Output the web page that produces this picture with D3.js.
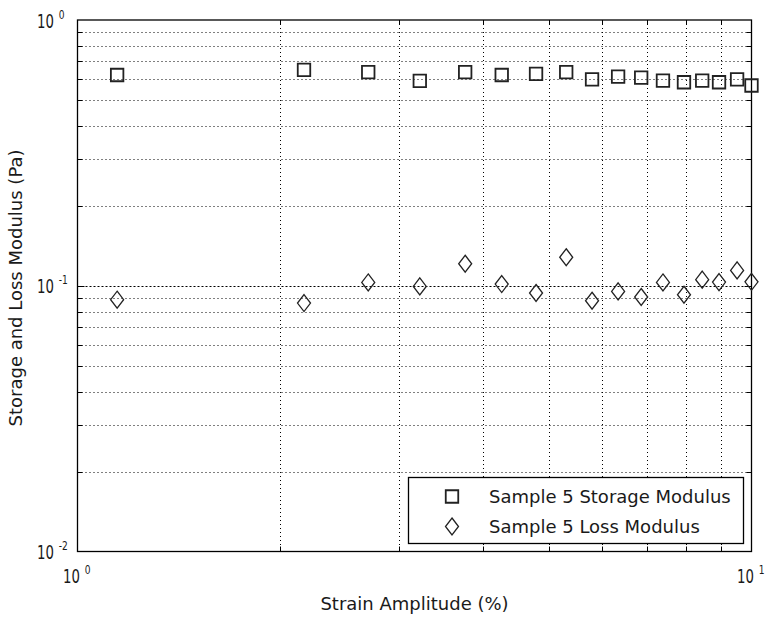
<!DOCTYPE html>
<html>
<head>
<meta charset="utf-8">
<script src="https://cdn.jsdelivr.net/npm/d3@7"></script>
<style>
  body { margin: 0; background: #fff; }
  text { font-family: "DejaVu Sans", sans-serif; fill: #1a1a1a; }
</style>
</head>
<body>
<div id="chart"></div>
<script>
// data
const strain = [1.145, 2.168, 2.70, 3.22, 3.76, 4.26, 4.79, 5.31, 5.80, 6.34, 6.86, 7.39, 7.94, 8.45, 8.95, 9.52, 10.0];
const storage = [0.621, 0.649, 0.637, 0.590, 0.637, 0.621, 0.627, 0.637, 0.598, 0.612, 0.607, 0.591, 0.583, 0.591, 0.583, 0.598, 0.567];
const loss = [0.0886, 0.0861, 0.1029, 0.0994, 0.121, 0.1015, 0.0939, 0.128, 0.0878, 0.0952, 0.0907, 0.1029, 0.0925, 0.1054, 0.1032, 0.1142, 0.1035];
const legendLabels = ['Sample 5 Storage Modulus', 'Sample 5 Loss Modulus'];
const yTickVals = [1, 0.1, 0.01], yTickExp = ['0', '-1', '-2'];
const xTickVals = [1, 10], xTickExp = ['0', '1'];

const W = 767, H = 618;
const pl = 77.5, pr = 751.5, pt = 20, pb = 551.5;

const svg = d3.select('#chart').append('svg')
  .attr('width', W).attr('height', H);

const x = d3.scaleLog().domain([1, 10]).range([pl, pr]);
const y = d3.scaleLog().domain([0.01, 1]).range([pb, pt]);

// grid lines
const xMinor = [2, 3, 4, 5, 6, 7, 8, 9];
const yMinor = [];
[0.01, 0.1].forEach(d => { for (let k = 2; k <= 9; k++) yMinor.push(d * k); });

const grid = svg.append('g').attr('stroke', '#000').attr('stroke-width', 1);
grid.selectAll('.gx').data(xMinor).enter().append('line')
  .attr('x1', d => Math.round(x(d)) + 0.5).attr('x2', d => Math.round(x(d)) + 0.5)
  .attr('y1', pt).attr('y2', pb)
  .attr('stroke-dasharray', '1,3');
grid.selectAll('.gy').data(yMinor).enter().append('line')
  .attr('y1', d => Math.round(y(d)) + 0.5).attr('y2', d => Math.round(y(d)) + 0.5)
  .attr('x1', pl).attr('x2', pr)
  .attr('stroke-dasharray', '1,3');
// major grid at 10^-1
grid.append('line')
  .attr('y1', Math.round(y(0.1)) + 0.5).attr('y2', Math.round(y(0.1)) + 0.5)
  .attr('x1', pl).attr('x2', pr)
  .attr('stroke-dasharray', '2,2');

// ticks (inside, all four sides)
const ticks = svg.append('g').attr('stroke', '#000').attr('stroke-width', 1);
xMinor.forEach(d => {
  const px = Math.round(x(d)) + 0.5;
  ticks.append('line').attr('x1', px).attr('x2', px).attr('y1', pb).attr('y2', pb - 5);
  ticks.append('line').attr('x1', px).attr('x2', px).attr('y1', pt).attr('y2', pt + 5);
});
yMinor.concat([0.1]).forEach(d => {
  const py = Math.round(y(d)) + 0.5;
  const len = d === 0.1 ? 7 : 5;
  ticks.append('line').attr('y1', py).attr('y2', py).attr('x1', pl).attr('x2', pl + len);
  ticks.append('line').attr('y1', py).attr('y2', py).attr('x1', pr).attr('x2', pr - len);
});

// frame
svg.append('rect')
  .attr('x', pl).attr('y', pt)
  .attr('width', pr - pl).attr('height', pb - pt)
  .attr('fill', 'none').attr('stroke', '#000').attr('stroke-width', 1.3);

// tick labels (power of ten), narrow glyphs like the original
function powLabel(g, px, py, exp) {
  const t = g.append('text')
    .attr('transform', `translate(${px},${py}) scale(0.7,1)`)
    .style('font-size', '19px');
  t.append('tspan').text('10');
  t.append('tspan').attr('dx', 7).attr('dy', -9).style('font-size', '13px').text(exp);
}
const lab = svg.append('g');
yTickVals.forEach((v, i) => powLabel(lab, 37, y(v) + 7.5, yTickExp[i]));
xTickVals.forEach((v, i) => powLabel(lab, x(v) - 14.5, pb + 31.5, xTickExp[i]));

// axis titles
svg.append('text')
  .attr('x', (pl + pr) / 2).attr('y', 610)
  .attr('text-anchor', 'middle').style('font-size', '18px')
  .text('Strain Amplitude (%)');
svg.append('text')
  .attr('transform', 'translate(22, 288) rotate(-90)')
  .attr('text-anchor', 'middle').style('font-size', '18px')
  .text('Storage and Loss Modulus (Pa)');

// markers
const square = d3.symbol().type(d3.symbolSquare).size(12.5 * 12.5);
const diamond = (cx, cy) => `M${cx},${cy - 8.5}L${cx + 6.5},${cy}L${cx},${cy + 8.5}L${cx - 6.5},${cy}Z`;

svg.append('g').selectAll('path').data(strain).enter().append('path')
  .attr('transform', (d, i) => `translate(${x(d)},${y(storage[i])})`)
  .attr('d', square)
  .attr('fill', 'none').attr('stroke', '#222').attr('stroke-width', 1.8);

svg.append('g').selectAll('path').data(strain).enter().append('path')
  .attr('d', (d, i) => diamond(x(d), y(loss[i])))
  .attr('fill', 'none').attr('stroke', '#222').attr('stroke-width', 1.3);

// legend
const lg = svg.append('g');
lg.append('rect').attr('x', 408.5).attr('y', 477.5).attr('width', 335).attr('height', 66)
  .attr('fill', '#fff').attr('stroke', '#000').attr('stroke-width', 1.3);
lg.append('path')
  .attr('transform', 'translate(452,496.5)')
  .attr('d', square)
  .attr('fill', 'none').attr('stroke', '#222').attr('stroke-width', 1.8);
lg.append('path')
  .attr('d', diamond(452, 526.5))
  .attr('fill', 'none').attr('stroke', '#222').attr('stroke-width', 1.3);
lg.selectAll('.lt').data(legendLabels).enter().append('text')
  .attr('x', 489).attr('y', (d, i) => 503 + i * 30)
  .style('font-size', '18px')
  .text(d => d);
</script>
</body>
</html>
